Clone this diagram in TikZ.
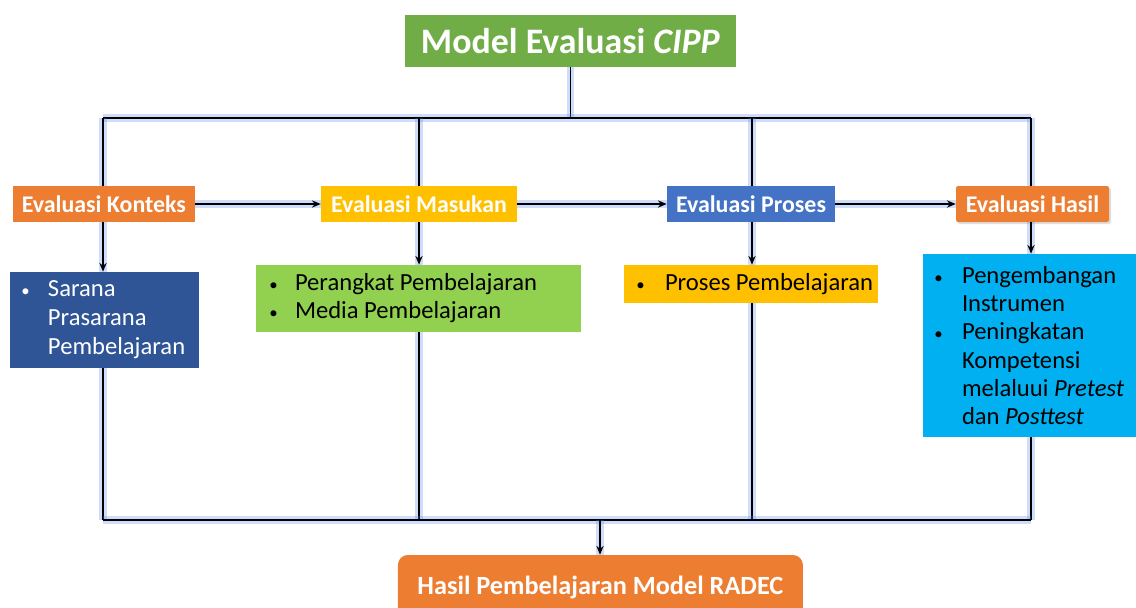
\documentclass[tikz,border=0pt]{standalone}
\usepackage{fontspec}
\setmainfont{Carlito}
\usetikzlibrary{arrows.meta,positioning,calc,shadows}
\definecolor{cippgreen}{HTML}{70AD47}
\definecolor{cippor}{HTML}{ED7D31}
\definecolor{cippyel}{HTML}{FFC000}
\definecolor{cippblue}{HTML}{4472C4}
\definecolor{cippdark}{HTML}{2F5597}
\definecolor{cipplime}{HTML}{92D050}
\definecolor{cippcyan}{HTML}{00B0F0}
\definecolor{glow}{HTML}{5B8DEF}
\newcommand{\bl}[2]{\makebox[#1][l]{\hspace*{1pt}{\fontsize{12}{12}\selectfont\textbullet}}\mbox{#2}}
\newcommand{\nb}[2]{\hspace*{#1}\mbox{#2}}

\begin{document}
\begin{tikzpicture}[>={Stealth[length=2.2mm,width=1.8mm]},
  ln/.style={line width=1.1pt,preaction={draw=glow,line width=5pt,opacity=0.3,arrows=-}},
  stage/.style={inner sep=0pt,minimum height=0.9cm,text=white,
    font=\fontsize{17}{20}\selectfont\bfseries},
  lst/.style={inner ysep=0pt,align=flush left,font=\fontsize{17.5}{20}\selectfont}]
  \useasboundingbox (0,0) rectangle (28.4,-15.175);
  % top and stages
  \node[fill=cippgreen,text=white,minimum width=8.275cm,minimum height=1.3cm,inner sep=0pt,
    font=\fontsize{25.5}{28}\selectfont\bfseries](title)at(14.26,-1.025){Model Evaluasi \textit{CIPP}};
  \coordinate(c1)at(2.575,-2.95);\coordinate(c2)at(10.475,-2.95);
  \coordinate(c3)at(18.8,-2.95);\coordinate(c4)at(25.775,-2.95);
  \coordinate(d1)at(2.575,-13.0);\coordinate(d2)at(10.475,-13.0);
  \coordinate(d3)at(18.8,-13.0);\coordinate(d4)at(25.775,-13.0);
  \coordinate(dj)at(15.0,-13.0);
  \node[stage,fill=cippor,minimum width=4.56cm](konteks)at(2.596,-5.1){Evaluasi Konteks};
  \node[stage,fill=cippyel,minimum width=4.9cm](masukan)at(10.475,-5.1){Evaluasi Masukan};
  \node[stage,fill=cippblue,minimum width=4.2cm](proses)at(18.775,-5.1){Evaluasi Proses};
  \node[stage,fill=cippor,minimum width=3.825cm,rounded corners=1.5pt,
    drop shadow={opacity=0.25,shadow xshift=0.5mm,shadow yshift=-0.5mm}](hasil)at(25.8125,-5.1){Evaluasi Hasil};
  % detail boxes
  \node[lst,fill=cippdark,text=white,inner xsep=0.25cm,text width=4.225cm,minimum height=2.4cm,
    font=\fontsize{17.5}{20.6}\selectfont](sarana)at(2.6125,-8.0)
    {\bl{0.7cm}{Sarana}\\\nb{0.7cm}{Prasarana}\\\nb{0.7cm}{Pembelajaran}};
  \node[lst,fill=cipplime,inner xsep=0.3cm,text width=7.525cm,minimum height=1.675cm](perangkat)at(10.4625,-7.4625)
    {\bl{0.675cm}{Perangkat Pembelajaran}\\\bl{0.675cm}{Media Pembelajaran}};
  \node[lst,fill=cippyel,inner xsep=0.275cm,text width=5.8cm,minimum height=0.95cm](prosesbox)at(18.775,-7.1)
    {\bl{0.75cm}{Proses Pembelajaran}};
  \node[lst,fill=cippcyan,inner xsep=0.25cm,text width=4.825cm,minimum height=4.575cm,
    font=\fontsize{17.5}{20.1}\selectfont](instrumen)at(25.7375,-8.6375)
    {\bl{0.725cm}{Pengembangan}\\\nb{0.725cm}{Instrumen}\\\bl{0.725cm}{Peningkatan}\\
     \nb{0.725cm}{Kompetensi}\\\nb{0.725cm}{melaluui \textit{Pretest}}\\\nb{0.725cm}{dan \textit{Posttest}}};
  \node[fill=cippor,text=white,rounded corners=0.25cm,minimum width=10.125cm,minimum height=1.6cm,inner sep=0pt,
    font=\fontsize{18.7}{22}\selectfont\bfseries](radec)at(15.01,-14.675){Hasil Pembelajaran Model RADEC};
  % connectors
  \draw[ln](title.south)--(title.south |- c1);
  \draw[ln](c1)--(c4);
  \foreach \i/\b in {1/konteks,2/masukan,3/proses,4/hasil}
    \draw[ln](c\i)--(c\i |- \b.north);
  \draw[ln,->](konteks)--(masukan);\draw[ln,->](masukan)--(proses);\draw[ln,->](proses)--(hasil);
  \foreach \i/\b/\d in {1/konteks/sarana,2/masukan/perangkat,3/proses/prosesbox,4/hasil/instrumen}{
    \draw[ln,->](c\i |- \b.south)--(c\i |- \d.north);
    \draw[ln](c\i |- \d.south)--(d\i);}
  \draw[ln](d1)--(d4);
  \draw[ln,->](dj)--(dj |- radec.north);
\end{tikzpicture}
\end{document}
